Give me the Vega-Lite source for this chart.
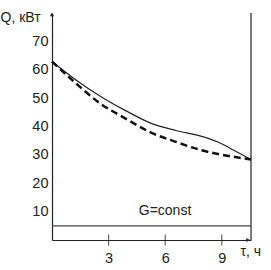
{
  "$schema": "https://vega.github.io/schema/vega-lite/v6.json",
  "autosize": {"type": "none"},
  "width": 199,
  "height": 227,
  "padding": {"left": 52, "top": 13, "right": 20, "bottom": 30},
  "background": "white",
  "config": {
    "view": {"stroke": null},
    "font": "Liberation Sans",
    "axis": {"grid": false, "domainColor": "#222", "domainWidth": 1.2, "labelColor": "#222", "labelFontSize": 14.5, "labelFlush": false, "labelOverlap": false, "labelSeparation": 0, "titleColor": "#222", "titleFontWeight": "normal"},
    "axisY": {"labelOverlap": false}
  },
  "datasets": {
    "curves": [
      {"t": 0, "Q": 62.9, "s": "solid"},
      {"t": 1.25, "Q": 56.5, "s": "solid"},
      {"t": 2.58, "Q": 50.6, "s": "solid"},
      {"t": 3.9, "Q": 45.6, "s": "solid"},
      {"t": 5.23, "Q": 41.2, "s": "solid"},
      {"t": 6.56, "Q": 38.6, "s": "solid"},
      {"t": 7.89, "Q": 36.6, "s": "solid"},
      {"t": 8.77, "Q": 34.6, "s": "solid"},
      {"t": 9.64, "Q": 31.6, "s": "solid"},
      {"t": 10.55, "Q": 28.4, "s": "solid"},
      {"t": 0, "Q": 62.9, "s": "dashed"},
      {"t": 1.25, "Q": 55.3, "s": "dashed"},
      {"t": 2.58, "Q": 48.0, "s": "dashed"},
      {"t": 3.9, "Q": 42.8, "s": "dashed"},
      {"t": 5.23, "Q": 37.9, "s": "dashed"},
      {"t": 6.56, "Q": 34.6, "s": "dashed"},
      {"t": 7.89, "Q": 31.7, "s": "dashed"},
      {"t": 9.21, "Q": 29.8, "s": "dashed"},
      {"t": 10.55, "Q": 28.4, "s": "dashed"}
    ],
    "xticks": [{"t": 3, "Q": 0}, {"t": 6, "Q": 0}, {"t": 9, "Q": 0}]
  },
  "encoding": {
    "x": {"field": "t", "type": "quantitative", "scale": {"domain": [0, 10.55], "nice": false},
      "axis": {"values": [3, 6, 9], "labelOverlap": false, "ticks": false, "labelPadding": 11, "title": "τ, ч", "titleFontSize": 14, "titleAngle": 0, "titleAlign": "left", "titleBaseline": "middle", "titleX": 188, "titleY": 11}},
    "y": {"field": "Q", "type": "quantitative", "scale": {"domain": [0, 80], "nice": false},
      "axis": {"values": [10, 20, 30, 40, 50, 60, 70], "labelOverlap": false, "ticks": false, "labelPadding": 4, "title": "Q, кВт", "titleFontSize": 14, "titleAngle": 0, "titleAlign": "left", "titleBaseline": "middle", "titleX": -52, "titleY": 4}}
  },
  "layer": [
    {
      "data": {"values": [{"t": 10.55, "Q": 0, "Q2": 80}]},
      "mark": {"type": "rule", "color": "#222", "strokeWidth": 1.2},
      "encoding": {"y2": {"field": "Q2"}}
    },
    {
      "data": {"values": [{"t": 0, "t2": 10.55, "Q": 5}]},
      "mark": {"type": "rule", "color": "#444", "strokeWidth": 1.2},
      "encoding": {"x2": {"field": "t2"}}
    },
    {
      "data": {"name": "xticks"},
      "mark": {"type": "tick", "orient": "vertical", "color": "#222", "size": 11, "thickness": 1.2},
      "encoding": {}
    },
    {
      "data": {"values": [{"t": 0, "Q": 79.5}]},
      "mark": {"type": "point", "shape": "triangle-up", "filled": true, "color": "#222", "size": 18, "opacity": 1},
      "encoding": {}
    },
    {
      "data": {"values": [{"t": 10.4, "Q": 0}]},
      "mark": {"type": "point", "shape": "triangle-right", "filled": true, "color": "#222", "size": 18, "opacity": 1},
      "encoding": {}
    },
    {
      "data": {"name": "curves"},
      "transform": [{"filter": "datum.s == 'solid'"}],
      "mark": {"type": "line", "color": "#222", "strokeWidth": 1.2, "interpolate": "monotone"},
      "encoding": {}
    },
    {
      "data": {"name": "curves"},
      "transform": [{"filter": "datum.s == 'dashed'"}],
      "mark": {"type": "line", "color": "#111", "strokeWidth": 2.5, "strokeDash": [7, 4], "interpolate": "monotone"},
      "encoding": {}
    },
    {
      "data": {"values": [{"t": 4.6, "Q": 10.2, "label": "G=const"}]},
      "mark": {"type": "text", "align": "left", "baseline": "middle", "fontSize": 14, "color": "#222"},
      "encoding": {"text": {"field": "label"}}
    }
  ]
}
